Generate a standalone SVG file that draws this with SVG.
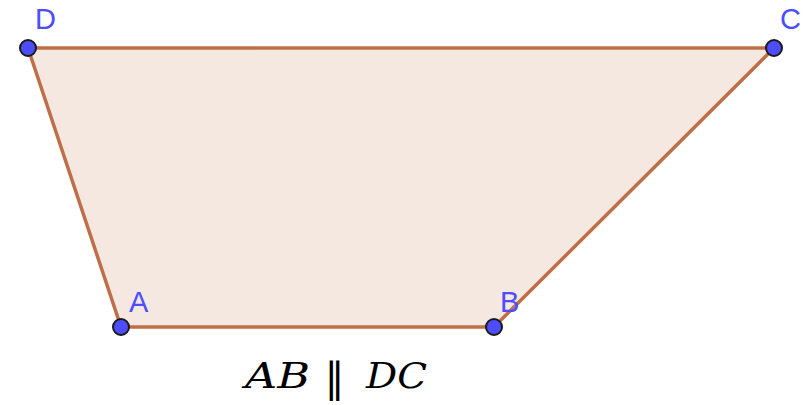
<svg xmlns="http://www.w3.org/2000/svg" width="807" height="405" viewBox="0 0 807 405">
<style>
.edge{stroke:#bf6f47;stroke-width:3.5;fill:none;stroke-linecap:round}
.pt{fill:#4d4dff;stroke:#1a1a1a;stroke-width:2}
.lbl{font-family:"Liberation Sans",Arial,sans-serif;font-size:29px;fill:#4d4dff}
.math{font-family:"DejaVu Serif","Liberation Serif",serif;font-style:italic;font-size:35px;fill:#000}
.par{font-family:"DejaVu Sans","Liberation Sans",sans-serif;font-size:41px;fill:#000}
</style>
<rect width="807" height="405" fill="#fff"/>
<polygon points="28,48 774,48 494,327 121,327" fill="#bf6f47" fill-opacity="0.16" stroke="none"/>
<g id="connectors">
<line class="edge" x1="28" y1="48" x2="774" y2="48"/>
<line class="edge" x1="774" y1="48" x2="494" y2="327"/>
<line class="edge" x1="494" y1="327" x2="121" y2="327"/>
<line class="edge" x1="121" y1="327" x2="28" y2="48"/>
</g>
<g id="D"><circle class="pt" cx="28" cy="48" r="8"/><text class="lbl" x="35" y="29">D</text></g>
<g id="C"><circle class="pt" cx="774" cy="48" r="8"/><text class="lbl" x="780" y="29">C</text></g>
<g id="A"><circle class="pt" cx="121" cy="327" r="8"/><text class="lbl" x="129" y="312">A</text></g>
<g id="B"><circle class="pt" cx="494" cy="327" r="8"/><text class="lbl" x="500" y="312">B</text></g>
<g id="caption">
<text class="math" x="245" y="388" textLength="65" lengthAdjust="spacingAndGlyphs">AB</text>
<text class="par" x="324" y="392">∥</text>
<text class="math" x="366" y="388" textLength="61" lengthAdjust="spacingAndGlyphs">DC</text>
</g>
</svg>
